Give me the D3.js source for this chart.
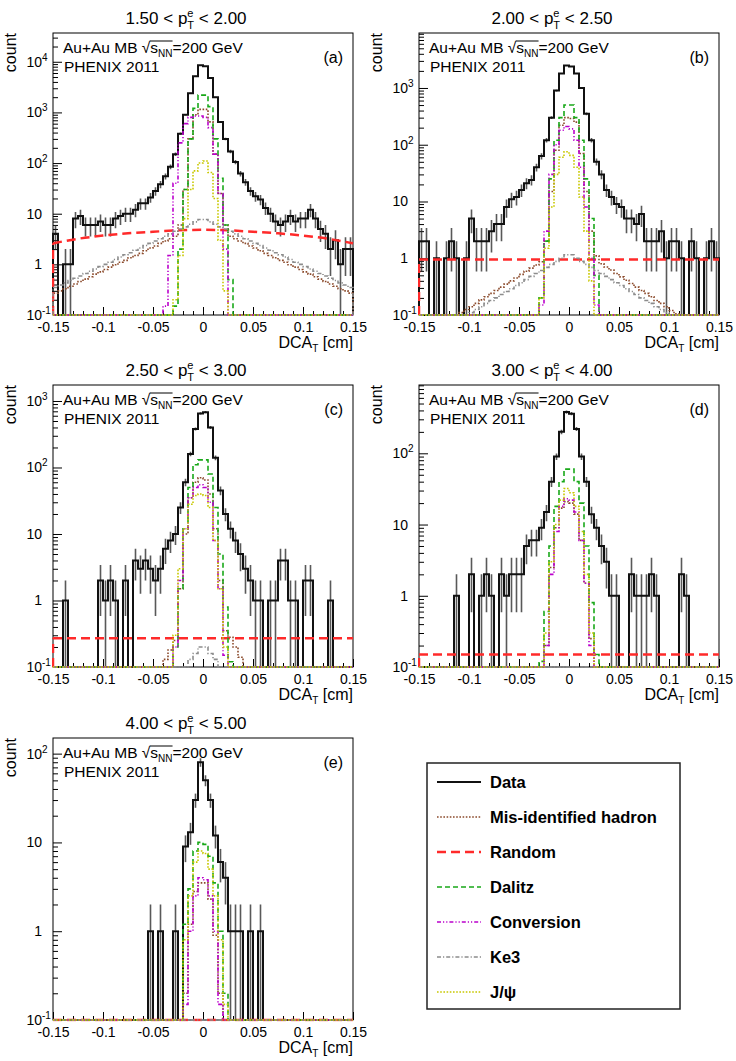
<!DOCTYPE html>
<html><head><meta charset="utf-8">
<script src="https://cdn.jsdelivr.net/npm/d3@7"></script>
<style>
body{margin:0;background:#fff}
svg{display:block}
text{font-family:"Liberation Sans",Arial,Helvetica,sans-serif;fill:#000}
</style>
</head><body>
<svg id="chart" width="736" height="1061"></svg>
<script>
// ---------------- data ----------------
const dcaMin = -0.15, dcaMax = 0.15, binWidth = 0.005, nBins = 60;
const xTickValues = [-0.15, -0.1, -0.05, 0, 0.05, 0.1, 0.15];
const xTickLabels = ["-0.15", "-0.1", "-0.05", "0", "0.05", "0.1", "0.15"];
const panelLetters = ["a", "b", "c", "d", "e"];
const ptLow  = ["1.50", "2.00", "2.50", "3.00", "4.00"];
const ptHigh = ["2.00", "2.50", "3.00", "4.00", "5.00"];
const yTop = [37000, 9300, 1740, 910, 150];
const legendNames = ["Data", "Mis-identified hadron", "Random", "Dalitz", "Conversion", "Ke3", "J/\u03C8"];
const randomX = [-0.15, -0.125, -0.1, -0.075, -0.05, -0.025, 0, 0.025, 0.05, 0.075, 0.1, 0.125, 0.15];

// Data (60 bins of 0.005 cm, from -0.15 to 0.15)
const dataA = [4,0,1,1,8,9,6,6,6,7, 6,6,8,9,10,10,12,16,16,21, 28,38,55,85,150,380,900,2400,5200,8500,
               8200,4800,2000,650,300,170,105,62,42,28, 22,19,13,10,7,6,7,9,7,8, 8,12,8,5,4,2,3,1,2,2];
const dataB = [2,2,0,1,0,1,2,1,0,1, 5,2,2,2,3,4,4,8,11,12, 16,21,24,40,63,120,300,900,1800,2500,
               2400,1800,1000,350,120,50,30,16,12,9, 8,5,5,4,6,2,2,2,3,1, 2,2,1,0,2,1,0,1,2,1];
const dataC = [0,0,1,0,0,0,0,0,0,2, 1,2,1,0,2,0,4,3,4,3, 2,3,6,8,10,25,60,160,380,650,
               680,400,140,45,20,12,8,5,3,2, 1,1,0,1,1,4,4,1,1,0, 2,2,0,0,0,1,0,0,0,0];
const dataD = [0,0,0,0,0,0,0,1,0,0, 2,0,1,2,1,0,2,1,2,2, 2,5,6,6,9,15,40,90,200,380,
               360,220,90,40,14,9,5,3,1,1, 0,0,2,1,1,1,2,1,0,0, 0,0,2,1,0,0,0,0,0,0];
const dataE = [0,0,0,0,0,0,0,0,0,0, 0,0,0,0,0,0,0,0,0,1, 0,1,0,0,1,0,9,13,30,80,
               50,30,12,6,4,1,1,1,0,1, 0,1,0,0,0,0,0,0,0,0, 0,0,0,0,0,0,0,0,0,0];

// Mis-identified hadron: first bin index, then values
const hadA = [0, [0.27,0.30,0.33,0.37,0.41,0.46,0.51,0.57,0.64,0.71,0.79,0.88,0.98,1.1,1.2,1.35,1.5,1.65,1.85,2.1,2.3,2.6,2.9,3.2,3.6,
                  6,30,300,900,1150,1150,650,150,25,6,
                  3.6,3.2,2.9,2.6,2.3,2.1,1.85,1.65,1.5,1.35,1.2,1.1,0.98,0.88,0.79,0.71,0.64,0.57,0.51,0.46,0.41,0.37,0.33,0.30,0.27]];
const hadB = [7, [0.09,0.11,0.125,0.14,0.16,0.185,0.21,0.24,0.27,0.31,0.35,0.4,0.45,0.52,0.59,0.67,0.76,0.87,
                  2,15,80,220,300,290,250,70,15,3,
                  1.1,0.8,0.7,0.62,0.54,0.47,0.41,0.36,0.31,0.27,0.24,0.21,0.18,0.16,0.14,0.12,0.105,0.09]];
const hadC = [21, [0.1,0.13,0.18,0.25,1.5,10,35,60,70,65,40,12,2,0.35,0.28,0.2,0.14,0.1]];
const hadD = [25, [0.2,2.5,9,17,21,20,14,6,1.5,0.25]];
const hadE = [26, [0.2,1.2,2.8,3.5,3.5,2.3,0.9,0.2]];

// Random: values at randomX
const randomA = [2.6,3.2,3.7,4.1,4.4,4.7,4.8,4.7,4.4,4.1,3.7,3.2,2.6];
const randomB = [0.95,0.95,0.95,0.95,0.95,0.95,0.95,0.95,0.95,0.95,0.95,0.95,0.95];
const randomC = [0.27,0.27,0.27,0.27,0.27,0.27,0.27,0.27,0.27,0.27,0.27,0.27,0.27];
const randomD = [0.15,0.15,0.15,0.15,0.15,0.15,0.15,0.15,0.15,0.15,0.15,0.15,0.15];
const randomE = [0.03,0.03,0.03,0.03,0.03,0.03,0.03,0.03,0.03,0.03,0.03,0.03,0.03];

// Dalitz
const dalA = [24, [0.15,2,30,300,1200,2200,2200,1300,300,50,6,0.5]];
const dalB = [24, [0.2,2,25,120,300,500,500,300,120,25,5,0.5]];
const dalC = [24, [0.2,1.5,12,50,110,130,130,80,25,5,0.8,0.12]];
const dalD = [24, [0.12,0.6,5,18,40,60,60,40,20,5,0.8,0.15]];
const dalE = [26, [1.2,3,8,10,9.5,7,3.5,1,0.2]];

// Conversion
const convA = [22, [0.15,1.5,40,250,600,800,850,850,800,500,150,25,2]];
const convB = [24, [0.15,3,30,100,180,210,190,120,40,8,1,0.15]];
const convC = [24, [0.2,2,12,35,50,55,50,30,8,1.5,0.15]];
const convD = [25, [0.2,2,8,18,23,22,15,6,1.5,0.2]];
const convE = [26, [0.15,1,2.5,4,3.8,2.5,1,0.15]];

// Ke3
const keA = [0, [0.35,0.39,0.43,0.48,0.53,0.59,0.66,0.73,0.81,0.9,1.0,1.1,1.25,1.4,1.55,1.7,1.9,2.1,2.35,2.6,2.9,3.2,3.6,4.0,4.5,5.0,5.5,6.2,6.9,7.7,
                 7.7,6.9,6.2,5.5,5.0,4.5,4.0,3.6,3.2,2.9,2.6,2.35,2.1,1.9,1.7,1.55,1.4,1.25,1.1,1.0,0.9,0.81,0.73,0.66,0.59,0.53,0.48,0.43,0.39,0.35]];
const keB = [9, [0.1,0.11,0.125,0.14,0.16,0.18,0.2,0.23,0.26,0.29,0.33,0.37,0.42,0.48,0.54,0.61,0.69,0.78,0.88,1.0,1.15,
                 1.15,1.0,0.88,0.78,0.69,0.61,0.54,0.48,0.42,0.37,0.33,0.29,0.26,0.23,0.2,0.18,0.16,0.14,0.125,0.11,0.1]];
const keC = [26, [0.1,0.13,0.16,0.2,0.2,0.16,0.13,0.1]];
const keD = [0, []];
const keE = [0, []];

// J/psi
const jpsiA = [24, [0.2,1.5,8,30,70,100,110,65,20,3,0.3]];
const jpsiB = [24, [0.2,1.5,8,30,60,75,65,40,12,3,0.4]];
const jpsiC = [24, [0.3,3,12,28,38,40,38,25,8,1.5,0.2]];
const jpsiD = [25, [0.3,3,10,22,32,28,18,8,2,0.3]];
const jpsiE = [26, [0.8,2.5,6,8,7.5,5,2.5,0.8,0.15]];

// ---------------- layout & style ----------------
const panelX = [53, 419, 53, 419, 53];
const panelY = [33, 33, 385, 385, 738];
const W = 300, H = 282;
const FONT = '"Liberation Sans",Arial,Helvetica,sans-serif';
const styles = {
  data:   {color:"#111", dash:null, width:2},
  had:    {color:"#8b4a2b", dash:"1.6 1.6", width:1.6},
  random: {color:"#ff2a2a", dash:"9 5", width:2.5},
  dal:    {color:"#18a818", dash:"5 3", width:1.6},
  conv:   {color:"#bb00cc", dash:"4 2 1.2 2 1.2 2", width:1.6},
  ke:     {color:"#8c8c8c", dash:"4 2 1.2 2", width:1.6},
  jpsi:   {color:"#c8c800", dash:"1.6 1.6", width:1.6}
};

function pad(spec) {
  const arr = new Array(nBins).fill(0);
  spec[1].forEach((v, i) => { arr[spec[0] + i] = v; });
  return arr;
}

const panels = [
  {data:dataA, had:pad(hadA), random:randomA, dal:pad(dalA), conv:pad(convA), ke:pad(keA), jpsi:pad(jpsiA)},
  {data:dataB, had:pad(hadB), random:randomB, dal:pad(dalB), conv:pad(convB), ke:pad(keB), jpsi:pad(jpsiB)},
  {data:dataC, had:pad(hadC), random:randomC, dal:pad(dalC), conv:pad(convC), ke:pad(keC), jpsi:pad(jpsiC)},
  {data:dataD, had:pad(hadD), random:randomD, dal:pad(dalD), conv:pad(convD), ke:pad(keD), jpsi:pad(jpsiD)},
  {data:dataE, had:pad(hadE), random:randomE, dal:pad(dalE), conv:pad(convE), ke:pad(keE), jpsi:pad(jpsiE)}
];

const svg = d3.select("#chart");
const defs = svg.append("defs");
const edges = d3.range(nBins + 1).map(i => +(dcaMin + i * binWidth).toFixed(4));

function applyStyle(sel, st) {
  sel.attr("fill", "none").attr("stroke", st.color).attr("stroke-width", st.width);
  if (st.dash) sel.attr("stroke-dasharray", st.dash);
  return sel;
}

panels.forEach((p, k) => {
  const px = panelX[k], py = panelY[k];
  const x = d3.scaleLinear().domain([dcaMin, dcaMax]).range([px, px + W]);
  const y = d3.scaleLog().domain([0.1, yTop[k]]).range([py + H, py]);
  const yv = v => (v > 0.1 ? y(v) : py + H);
  const g = svg.append("g");

  // frame
  g.append("rect").attr("x", px).attr("y", py).attr("width", W).attr("height", H)
    .attr("fill", "none").attr("stroke", "#000").attr("stroke-width", 1);

  // axes ticks (inside)
  const xMinor = d3.range(-15, 16).map(i => i / 100);
  g.append("g").attr("transform", `translate(0,${py + H})`)
    .call(d3.axisBottom(x).tickValues(xMinor).tickSize(-4).tickFormat(""))
    .call(s => s.select(".domain").remove());
  g.append("g").attr("transform", `translate(0,${py + H})`)
    .call(d3.axisBottom(x).tickValues(xTickValues).tickSize(-8).tickPadding(7)
      .tickFormat((d, i) => xTickLabels[i]))
    .call(s => s.select(".domain").remove())
    .call(s => s.selectAll("text").attr("font-size", 14).attr("font-family", FONT).attr("fill", "#000"));
  g.selectAll(".tick line").attr("stroke", "#000");

  const maxExp = Math.floor(Math.log10(yTop[k]) + 1e-9);
  const decades = d3.range(-1, maxExp + 1).map(e => Math.pow(10, e));
  const minors = [];
  d3.range(-1, maxExp + 1).forEach(e => {
    for (let m = 2; m <= 9; m++) { const v = m * Math.pow(10, e); if (v <= yTop[k]) minors.push(v); }
  });
  g.append("g").attr("transform", `translate(${px},0)`)
    .call(d3.axisLeft(y).tickValues(minors).tickSize(-5).tickFormat(""))
    .call(s => s.select(".domain").remove());
  g.append("g").attr("transform", `translate(${px},0)`)
    .call(d3.axisLeft(y).tickValues(decades).tickSize(-9).tickFormat(""))
    .call(s => s.select(".domain").remove());
  g.selectAll(".tick line").attr("stroke", "#000");

  // y labels with superscripts
  decades.forEach(v => {
    const e = Math.round(Math.log10(v));
    const base = e === 0 ? "1" : "10";
    const yy = y(v) + 5;
    g.append("text").attr("x", px - 11).attr("y", yy).attr("text-anchor", "end")
      .attr("font-size", 14).text(base);
    if (e !== 0 && e !== 1) {
      g.append("text").attr("x", px - 11).attr("y", yy - 6).attr("font-size", 10).text(String(e));
    }
  });

  // axis titles
  const xt = g.append("text").attr("x", px + W).attr("y", py + H + 33).attr("text-anchor", "end")
    .attr("font-size", 16);
  xt.append("tspan").text("DCA");
  xt.append("tspan").attr("font-size", 10).attr("dy", 4).text("T");
  xt.append("tspan").attr("dy", -4).text("\u00A0[cm]");
  g.append("text").attr("transform", `translate(${px - 37},${py}) rotate(-90)`)
    .attr("text-anchor", "end").attr("font-size", 16).text("count");

  // title
  const tt = g.append("text").attr("x", px - 53 + 186).attr("y", py - 9).attr("text-anchor", "middle")
    .attr("font-size", 17);
  tt.append("tspan").text(`${ptLow[k]} < p`);
  tt.append("tspan").attr("font-size", 11).attr("dy", -7).text("e");
  tt.append("tspan").attr("font-size", 11).attr("dx", -6.1).attr("dy", 12).text("T");
  tt.append("tspan").attr("dy", -5).text(`\u00A0< ${ptHigh[k]}`);

  // panel label texts
  const t1 = g.append("text").attr("x", px + 10).attr("y", py + 20).attr("font-size", 15.5);
  t1.append("tspan").text("Au+Au MB\u00A0\u221A");
  t1.append("tspan").text("s");
  t1.append("tspan").attr("font-size", 10).attr("dy", 4).text("NN");
  t1.append("tspan").attr("dy", -4).text("=200 GeV");
  const node = t1.node();
  const xs0 = node.getStartPositionOfChar(9).x + 8, xs1 = node.getEndPositionOfChar(12).x;
  g.append("line").attr("x1", xs0).attr("x2", xs1).attr("y1", py + 8).attr("y2", py + 8)
    .attr("stroke", "#000").attr("stroke-width", 1);
  g.append("text").attr("x", px + 11).attr("y", py + 39).attr("font-size", 15.5).text("PHENIX 2011");
  g.append("text").attr("x", px + 290).attr("y", py + 30).attr("text-anchor", "end").attr("font-size", 16)
    .text(`(${panelLetters[k]})`);

  // plot content clipped
  const cid = "clip" + k;
  defs.append("clipPath").attr("id", cid).append("rect")
    .attr("x", px - 1).attr("y", py).attr("width", W + 2).attr("height", H + 1.5);
  const c = g.append("g").attr("clip-path", `url(#${cid})`);

  const histLine = vals => {
    const pts = [[x(edges[0]), py + H]];
    vals.forEach((v, i) => { pts.push([x(edges[i]), yv(v)]); pts.push([x(edges[i + 1]), yv(v)]); });
    pts.push([x(edges[nBins]), py + H]);
    return d3.line()(pts);
  };

  // data: error bars + histogram
  const centers = d3.range(nBins).map(i => (edges[i] + edges[i + 1]) / 2);
  c.append("g").selectAll("line").data(p.data.map((v, i) => [v, i]).filter(d => d[0] > 0)).join("line")
    .attr("x1", d => x(centers[d[1]])).attr("x2", d => x(centers[d[1]]))
    .attr("y1", d => yv(d[0] + Math.sqrt(d[0]))).attr("y2", d => yv(d[0] - Math.sqrt(d[0])))
    .attr("stroke", "#222").attr("stroke-width", 1.6).attr("stroke-opacity", 0.75);
  applyStyle(c.append("path").attr("d", histLine(p.data)), styles.data);

  // hadron
  applyStyle(c.append("path").attr("d", histLine(p.had)), styles.had);
  // random
  applyStyle(c.append("path").attr("d", d3.line()([[x(dcaMin), py + H], [x(dcaMin), yv(p.random[0])]])), styles.random);
  applyStyle(c.append("path").attr("d", d3.line().curve(d3.curveMonotoneX)
      .x((d, i) => x(randomX[i])).y(d => yv(d))(p.random)), styles.random);
  // dalitz, conversion, ke3, jpsi
  applyStyle(c.append("path").attr("d", histLine(p.dal)), styles.dal);
  applyStyle(c.append("path").attr("d", histLine(p.conv)), styles.conv);
  applyStyle(c.append("path").attr("d", histLine(p.ke)), styles.ke);
  applyStyle(c.append("path").attr("d", histLine(p.jpsi)), styles.jpsi);
});

// ---------------- legend ----------------
const lg = svg.append("g");
lg.append("rect").attr("x", 427).attr("y", 763).attr("width", 253).attr("height", 246)
  .attr("fill", "#fff").attr("stroke", "#222").attr("stroke-width", 1.5);
const legendKeys = ["data", "had", "random", "dal", "conv", "ke", "jpsi"];
const ly = d3.scalePoint().domain(legendNames).range([782, 992]);
legendNames.forEach((name, i) => {
  const yy = ly(name);
  applyStyle(lg.append("line").attr("x1", 437).attr("x2", 481).attr("y1", yy).attr("y2", yy), styles[legendKeys[i]]);
  lg.append("text").attr("x", 490).attr("y", yy + 6).attr("font-size", 16.5).attr("font-weight", "bold").text(name);
});
</script>
</body></html>
